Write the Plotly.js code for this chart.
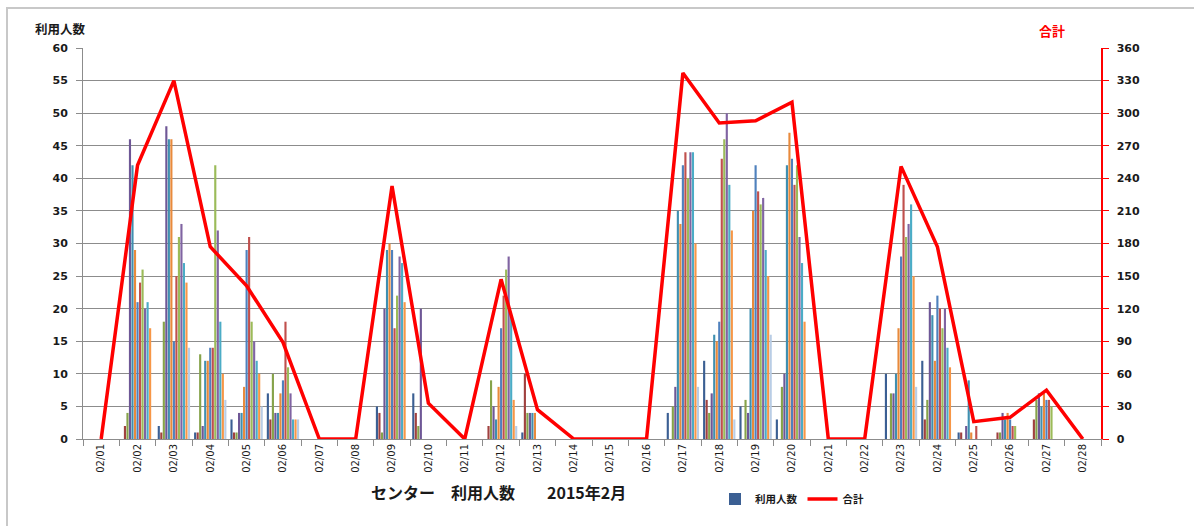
<!DOCTYPE html>
<html>
<head>
<meta charset="utf-8">
<script src="https://cdn.plot.ly/plotly-3.0.1.min.js"></script>
<style>
  html, body { margin:0; padding:0; background:#fff; }
  #wrap { position:relative; width:1194px; height:526px; overflow:hidden; }
  #chart { position:absolute; left:0; top:0; width:1194px; height:526px; }
  #frame { position:absolute; left:6px; top:7px; width:1200px; height:540px;
           border-left:2px solid #c8c8c8; border-top:2px solid #c8c8c8; pointer-events:none; }
</style>
</head>
<body>
<div id="wrap"><div id="chart"></div><div id="frame"></div></div>
<script>
// Days (x categories)
const days = ["02/01","02/02","02/03","02/04","02/05","02/06","02/07","02/08","02/09","02/10",
              "02/11","02/12","02/13","02/14","02/15","02/16","02/17","02/18","02/19","02/20",
              "02/21","02/22","02/23","02/24","02/25","02/26","02/27","02/28"];

// 利用人数 per time slot (13 slots per day)
const slot01 = [0,0,2,1,3,7,0,0,5,7,0,0,1,0,0,0,4,12,5,3,0,0,10,12,1,0,0,0];
const slot02 = [0,2,1,1,1,3,0,0,4,4,0,2,10,0,0,0,0,6,0,0,0,0,0,3,1,1,3,0];
const slot03 = [0,4,18,13,1,10,0,0,1,2,0,9,4,0,0,0,5,4,6,8,0,0,7,6,0,1,6,0];
const slot04 = [0,46,48,2,4,4,0,0,20,20,0,5,4,0,0,0,8,7,4,10,0,0,7,21,2,4,7,0];
const slot05 = [0,42,46,12,4,4,0,0,29,0,0,3,4,0,0,0,35,16,20,42,0,0,10,19,9,3,5,0];
const slot06 = [0,29,46,12,8,7,0,0,30,0,0,8,4,0,0,0,33,15,35,47,0,0,17,12,1,4,7,0];
const slot07 = [0,21,15,14,29,9,0,0,29,0,0,17,0,0,0,0,42,18,42,43,0,0,28,22,0,3,6,0];
const slot08 = [0,24,25,14,31,18,0,0,17,0,0,22,0,0,0,0,44,43,38,39,0,0,39,20,2,2,6,0];
const slot09 = [0,26,31,42,18,11,0,0,22,0,0,26,0,0,0,0,40,46,36,42,0,0,31,17,0,2,5,0];
const slot10 = [0,20,33,32,15,7,0,0,28,0,0,28,0,0,0,0,44,50,37,31,0,0,33,20,0,0,0,0];
const slot11 = [0,21,27,18,12,3,0,0,27,0,0,19,0,0,0,0,44,39,29,27,0,0,36,14,0,0,0,0];
const slot12 = [0,17,24,10,10,3,0,0,21,0,0,6,0,0,0,0,30,32,25,18,0,0,25,11,0,0,0,0];
const slot13 = [0,0,14,6,5,3,0,0,0,0,0,2,0,0,0,0,8,3,16,0,0,0,8,0,0,0,0,0];

// 合計 per day
const totals = [0,252,330,177,141,89,0,0,233,33,0,147,27,0,0,0,337,291,293,310,0,0,251,177,16,20,45,0];

const slots = [slot01,slot02,slot03,slot04,slot05,slot06,slot07,slot08,slot09,slot10,slot11,slot12,slot13];
const slotColors = ["#3B5F93","#A0413F","#86A34A","#6E5796","#3F8FB0","#E88A3C",
                    "#4F81BD","#C0504D","#9BBB59","#8064A2","#4BACC6","#F79646","#B9CDE5"];

const traces = slots.map((vals, i) => ({
  type: "bar",
  x: days,
  y: vals,
  name: "利用人数",
  showlegend: i === 0,
  marker: { color: slotColors[i], line: { width: 0 } },
  hoverinfo: "x+y"
}));

traces.push({
  type: "scatter",
  mode: "lines",
  x: days,
  y: totals,
  yaxis: "y2",
  name: "合計",
  line: { color: "#FF0000", width: 3.5 }
});

const tickFont = { family: "DejaVu Sans, Verdana, sans-serif", size: 11, color: "#1a1a1a", weight: "bold" };

const PB = 526 - 81;          // plot bottom pixel
const PH = PB - 48;           // plot height
const py = (pix) => (PB - pix) / PH;
const px = (pix) => (pix - 83) / 1018;

const layout = {
  width: 1194,
  height: 526,
  margin: { l: 83, r: 93, t: 48, b: 81 },
  paper_bgcolor: "rgba(0,0,0,0)",
  plot_bgcolor: "#ffffff",
  barmode: "group",
  bargap: 0.1,
  bargroupgap: 0.15,
  showlegend: true,
  legend: {
    orientation: "h",
    x: px(715), y: py(506), xanchor: "left", yanchor: "middle",
    font: { family: "Noto Sans CJK JP, sans-serif", size: 10.5, color: "#1a1a1a", weight: "bold" },
    bgcolor: "rgba(0,0,0,0)",
    itemwidth: 30,
    tracegroupgap: 0
  },
  xaxis: {
    type: "category",
    categoryorder: "array",
    categoryarray: days,
    tickangle: -90,
    tickfont: { family: "DejaVu Sans, sans-serif", size: 10, color: "#1a1a1a" },
    ticks: "outside",
    tickson: "boundaries",
    ticklen: 6,
    tickcolor: "#8c8c8c",
    showline: true,
    linecolor: "#8c8c8c",
    linewidth: 1,
    showgrid: false,
    zeroline: false,
    fixedrange: true
  },
  yaxis: {
    range: [0, 60],
    dtick: 5,
    tick0: 0,
    tickfont: tickFont,
    ticks: "outside",
    ticklen: 6,
    tickcolor: "#8c8c8c",
    ticklabelstandoff: 6,
    showline: true,
    linecolor: "#8c8c8c",
    showgrid: true,
    gridcolor: "#8c8c8c",
    gridwidth: 1,
    zeroline: false,
    fixedrange: true
  },
  yaxis2: {
    overlaying: "y",
    side: "right",
    range: [0, 360],
    dtick: 30,
    tick0: 0,
    tickfont: tickFont,
    ticks: "outside",
    ticklen: 6,
    tickcolor: "#FF0000",
    ticklabelstandoff: 6,
    showline: true,
    linecolor: "#FF0000",
    linewidth: 1.5,
    showgrid: false,
    zeroline: false,
    fixedrange: true
  },
  annotations: [
    { xref: "paper", yref: "paper", x: px(60), y: py(28),
      xanchor: "center", yanchor: "middle", showarrow: false,
      text: "<b>利用人数</b>",
      font: { family: "Noto Sans CJK JP, sans-serif", size: 12.5, color: "#1a1a1a" } },
    { xref: "paper", yref: "paper", x: px(1052), y: py(30),
      xanchor: "center", yanchor: "middle", showarrow: false,
      text: "<b>合計</b>",
      font: { family: "Noto Sans CJK JP, sans-serif", size: 13, color: "#FF0000" } },
    { xref: "paper", yref: "paper", x: px(498), y: py(499),
      xanchor: "center", yanchor: "middle", showarrow: false,
      text: "<b>センター　利用人数　　2015年2月</b>",
      font: { family: "Noto Sans CJK JP, sans-serif", size: 16, color: "#1a1a1a" } }
  ]
};

Plotly.newPlot("chart", traces, layout, { staticPlot: true, displayModeBar: false });
</script>
</body>
</html>
